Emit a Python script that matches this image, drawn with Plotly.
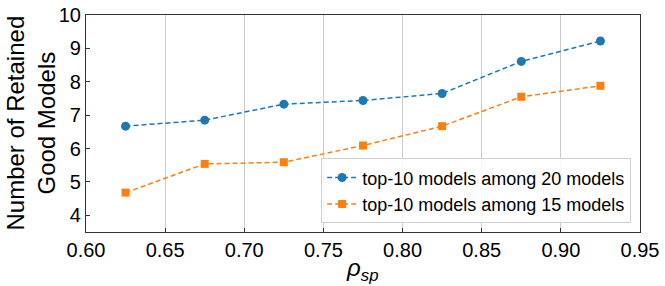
import plotly.graph_objects as go

x_vals = [0.625, 0.675, 0.725, 0.775, 0.825, 0.875, 0.925]
blue_vals = [6.67, 6.85, 7.33, 7.44, 7.65, 8.61, 9.22]
orange_vals = [4.68, 5.54, 5.59, 6.09, 6.67, 7.55, 7.88]
blue_name = "top-10 models among 20 models"
orange_name = "top-10 models among 15 models"
x_ticks = [0.60, 0.65, 0.70, 0.75, 0.80, 0.85, 0.90, 0.95]
y_ticks = [4, 5, 6, 7, 8, 9, 10]
x_title = "<i>ρ</i><sub><i>sp</i></sub>"
y_title = "Number of Retained<br>Good Models"

fig = go.Figure()
fig.add_trace(go.Scatter(x=x_vals, y=blue_vals, name=blue_name, mode="lines+markers",
                         line=dict(color="#1f77b4", width=1.5, dash="5px,3px"),
                         marker=dict(symbol="circle", size=9, color="#1f77b4")))
fig.add_trace(go.Scatter(x=x_vals, y=orange_vals, name=orange_name, mode="lines+markers",
                         line=dict(color="#ff7f0e", width=1.5, dash="5px,3px"),
                         marker=dict(symbol="square", size=8, color="#ff7f0e")))

font_family = "Liberation Sans, Arial, sans-serif"
fig.update_layout(
    width=665, height=286,
    margin=dict(l=86, r=25, t=15, b=54, autoexpand=False),
    paper_bgcolor="white", plot_bgcolor="white",
    font=dict(family=font_family, color="black"),
    showlegend=True,
    legend=dict(x=0.984, y=0.04, xanchor="right", yanchor="bottom",
                bgcolor="rgba(255,255,255,0.85)", bordercolor="#d0d0d0", borderwidth=1,
                font=dict(size=18, family=font_family), tracegroupgap=2),
    annotations=[
        dict(text=y_title, xref="paper", yref="paper", x=-0.101, y=0.5,
             xanchor="center", yanchor="middle", textangle=-90, showarrow=False,
             font=dict(size=24, family=font_family)),
        dict(text=x_title, xref="paper", yref="paper", x=0.498, y=-0.092,
             xanchor="center", yanchor="top", showarrow=False,
             font=dict(size=24, family=font_family)),
    ],
)
fig.update_xaxes(range=[0.60, 0.95], tickvals=x_ticks, ticktext=[f"{v:.2f}" for v in x_ticks],
                 tickfont=dict(size=20), showgrid=True, gridcolor="#cccccc", gridwidth=1,
                 showline=True, linecolor="#333333", linewidth=1.2, mirror=True,
                 ticks="inside", ticklen=4, tickcolor="#333333", zeroline=False,
                 automargin=False)
fig.update_yaxes(range=[3.5, 10], tickvals=y_ticks, tickfont=dict(size=20), showgrid=False,
                 showline=True, linecolor="#333333", linewidth=1.2, mirror=True,
                 ticks="inside", ticklen=4, tickcolor="#333333", zeroline=False,
                 automargin=False)

fig.write_html("out.html", config={"displayModeBar": False},
               post_script="document.body.style.margin='0';document.body.style.overflow='hidden';")
